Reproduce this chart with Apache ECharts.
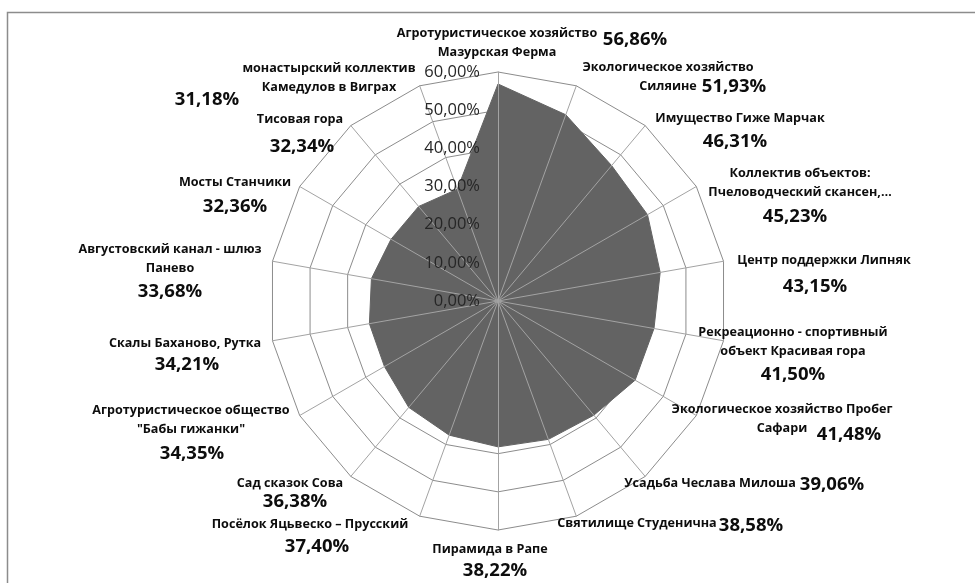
<!DOCTYPE html>
<html>
<head>
<meta charset="utf-8">
<script src="https://cdn.jsdelivr.net/npm/echarts@6/dist/echarts.min.js"></script>
<style>
html, body { margin: 0; padding: 0; background: #fff; }
#main { width: 975px; height: 583px; }
</style>
</head>
<body>
<div id="main"></div>
<script>
// объекты по часовой стрелке, начиная сверху
var names = [
    'Агротуристическое хозяйство\nМазурская Ферма',
    'Экологическое хозяйство\nСиляине',
    'Имущество Гиже Марчак',
    'Коллектив объектов:\nПчеловодческий скансен,…',
    'Центр поддержки Липняк',
    'Рекреационно - спортивный\nобъект Красивая гора',
    'Экологическое хозяйство Пробег\nСафари',
    'Усадьба Чеслава Милоша',
    'Святилище Студенична',
    'Пирамида в Рапе',
    'Посёлок Яцьвеско – Прусский',
    'Сад сказок Сова',
    'Агротуристическое общество\n"Бабы гижанки"',
    'Скалы Баханово, Рутка',
    'Августовский канал - шлюз\nПанево',
    'Мосты Станчики',
    'Тисовая гора',
    'монастырский коллектив\nКамедулов в Виграх'
];
var values = [56.86, 51.93, 46.31, 45.23, 43.15, 41.50, 41.48, 39.06, 38.58,
              38.22, 37.40, 36.38, 34.35, 34.21, 33.68, 32.36, 32.34, 31.18];
var tickLabels = ['0,00%', '10,00%', '20,00%', '30,00%', '40,00%', '50,00%', '60,00%'];

// где стоят подписи (центр текста)
var namePos = [
    [497, 43], [668, 77], [740, 118], [800, 183], [824, 260], [793, 342],
    [782, 419], [710, 483], [637, 523], [490, 549], [310, 524], [290, 483],
    [191, 420], [185, 343], [170, 259], [235, 182], [300, 119], [329, 78]
];
var valuePos = [
    [635, 40], [734, 87], [735, 142], [795, 217], [815, 287], [793, 375],
    [849, 435], [832, 485], [751, 526], [495, 571], [317, 547], [295, 502],
    [192, 454], [187, 365], [170, 292], [235, 207], [302, 147], [207, 100]
];

var dom = document.getElementById('main');
var myChart = echarts.init(dom);

// echarts кладёт индикаторы против часовой стрелки — разворачиваем
var order = [0];
for (var k = values.length - 1; k > 0; k--) order.push(k);

var indicator = order.map(function (i) {
    return { name: names[i], min: 0, max: 60 };
});
var indicator2 = order.map(function (i, n) {
    var o = { name: names[i], min: 0, max: 60 };
    if (n === 0) o.axisLabel = { show: true };
    return o;
});
var seriesData = order.map(function (i) { return values[i]; });

function pct(v) {
    return v.toFixed(2).replace('.', ',') + '%';
}

var graphics = [{
    type: 'rect',
    shape: { x: 7.5, y: 12.5, width: 1100, height: 700 },
    style: { fill: null, stroke: '#8c8c8c', lineWidth: 1.5 },
    silent: true
}];
for (var i = 0; i < names.length; i++) {
    graphics.push({
        type: 'text',
        style: {
            text: names[i], x: namePos[i][0], y: namePos[i][1],
            align: 'center', verticalAlign: 'middle',
            fontFamily: 'Open Sans', fontWeight: 'bold', fontSize: 12.6,
            lineHeight: 19, fill: '#0d0d0d'
        },
        z: 10
    });
    graphics.push({
        type: 'text',
        style: {
            text: pct(values[i]), x: valuePos[i][0], y: valuePos[i][1],
            align: 'center', verticalAlign: 'middle',
            fontFamily: 'Open Sans', fontWeight: 'bold', fontSize: 18.5,
            fill: '#0d0d0d'
        },
        z: 10
    });
}

var option = {
    backgroundColor: '#fff',
    animation: false,
    radar: [
        {
            center: [498, 301],
            radius: 229,
            startAngle: 90,
            shape: 'polygon',
            splitNumber: 6,
            indicator: indicator,
            axisName: { show: false },
            axisLine: { show: false },
            axisTick: { show: false },
            axisLabel: { show: false },
            splitArea: { show: false },
            splitLine: { lineStyle: { color: '#8c8c8c', width: 1 } },
            z: 0
        },
        {
            center: [498, 301],
            radius: 229,
            startAngle: 90,
            shape: 'polygon',
            splitNumber: 6,
            indicator: indicator2,
            axisName: { show: false },
            axisLine: { lineStyle: { color: '#a3a3a3', width: 1 } },
            axisTick: { show: false },
            axisLabel: {
                show: false,
                margin: 18,
                color: '#262626',
                fontFamily: 'Open Sans',
                fontSize: 16.5,
                formatter: function (v) { return tickLabels[Math.round(v / 10)]; }
            },
            splitArea: { show: false },
            splitLine: { show: false },
            z: 3
        }
    ],
    series: [{
        type: 'radar',
        radarIndex: 0,
        symbol: 'none',
        z: 2,
        lineStyle: { color: '#636363', width: 1 },
        areaStyle: { color: '#636363', opacity: 1 },
        data: [{ value: seriesData, name: 'доля' }]
    }],
    graphic: graphics
};

myChart.setOption(option);
</script>
</body>
</html>
